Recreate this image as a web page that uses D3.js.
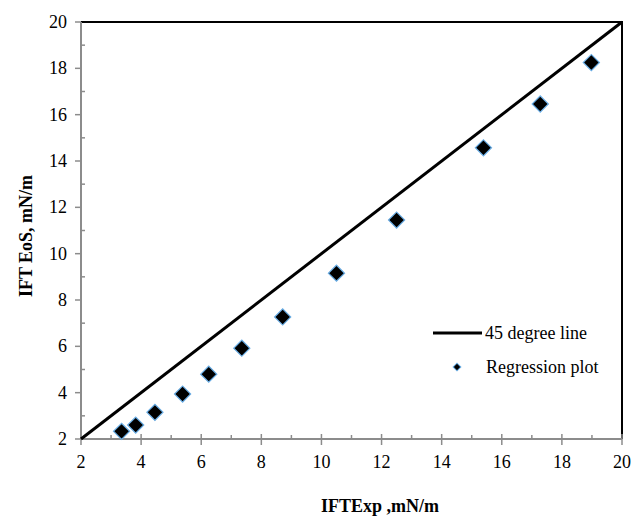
<!DOCTYPE html>
<html>
<head>
<meta charset="utf-8">
<script src="https://cdn.jsdelivr.net/npm/d3@7"></script>
<style>
  body { margin: 0; background: #fff; }
</style>
</head>
<body>
<svg id="chart"></svg>
<script>
// Data
const expValues = [3.35, 3.82, 4.46, 5.38, 6.25, 7.35, 8.71, 10.5, 12.5, 15.39, 17.28, 18.98];
const eosValues = [2.33, 2.6, 3.15, 3.94, 4.8, 5.92, 7.27, 9.16, 11.45, 14.57, 16.46, 18.25];
const lineEnds = [2, 20];
const majorTicks = [2, 4, 6, 8, 10, 12, 14, 16, 18, 20];
const minorTicks = [3, 5, 7, 9, 11, 13, 15, 17, 19];
const legendLabels = ["45 degree line", "Regression plot"];

const width = 632, height = 517;
const margin = {top: 22, right: 10, bottom: 78, left: 81};

const svg = d3.select("#chart")
    .attr("width", width)
    .attr("height", height)
    .attr("font-family", "'Liberation Serif', Tinos, 'DejaVu Serif', serif");

const x = d3.scaleLinear().domain([2, 20]).range([margin.left, width - margin.right]);
const y = d3.scaleLinear().domain([2, 20]).range([height - margin.bottom, margin.top]);

const axisColor = "#8c8c8c";

// Top and right border (black)
svg.append("path")
    .attr("d", `M${x(2)},${y(20)} H${x(20)} V${y(2)}`)
    .attr("fill", "none")
    .attr("stroke", "#000")
    .attr("stroke-width", 2);

// X axis
const gx = svg.append("g");
gx.append("line")
    .attr("x1", x(2)).attr("x2", x(20))
    .attr("y1", y(2)).attr("y2", y(2))
    .attr("stroke", axisColor).attr("stroke-width", 2);
gx.selectAll("line.major").data(majorTicks).join("line")
    .attr("class", "major")
    .attr("x1", d => x(d)).attr("x2", d => x(d))
    .attr("y1", y(2) - 5).attr("y2", y(2) + 6)
    .attr("stroke", axisColor).attr("stroke-width", 1.5);
gx.selectAll("line.minor").data(minorTicks).join("line")
    .attr("class", "minor")
    .attr("x1", d => x(d)).attr("x2", d => x(d))
    .attr("y1", y(2) - 4).attr("y2", y(2))
    .attr("stroke", axisColor).attr("stroke-width", 1.5);
gx.selectAll("text").data(majorTicks).join("text")
    .attr("x", d => x(d))
    .attr("y", y(2) + 29)
    .attr("text-anchor", "middle")
    .attr("font-size", 18)
    .text(d => d);

// Y axis
const gy = svg.append("g");
gy.append("line")
    .attr("x1", x(2)).attr("x2", x(2))
    .attr("y1", y(2)).attr("y2", y(20))
    .attr("stroke", axisColor).attr("stroke-width", 2);
gy.selectAll("line.major").data(majorTicks).join("line")
    .attr("class", "major")
    .attr("x1", x(2) - 6).attr("x2", x(2))
    .attr("y1", d => y(d)).attr("y2", d => y(d))
    .attr("stroke", axisColor).attr("stroke-width", 1.5);
gy.selectAll("line.minor").data(minorTicks).join("line")
    .attr("class", "minor")
    .attr("x1", x(2)).attr("x2", x(2) + 4)
    .attr("y1", d => y(d)).attr("y2", d => y(d))
    .attr("stroke", axisColor).attr("stroke-width", 1.5);
gy.selectAll("text").data(majorTicks).join("text")
    .attr("x", x(2) - 14)
    .attr("y", d => y(d) + 6)
    .attr("text-anchor", "end")
    .attr("font-size", 18)
    .text(d => d);

// 45 degree line
svg.append("line")
    .attr("x1", x(lineEnds[0])).attr("y1", y(lineEnds[0]))
    .attr("x2", x(lineEnds[1])).attr("y2", y(lineEnds[1]))
    .attr("stroke", "#000")
    .attr("stroke-width", 3);

// Diamonds
const diamond = d3.symbol().type(d3.symbolSquare).size(130);
svg.selectAll("path.pt").data(expValues).join("path")
    .attr("class", "pt")
    .attr("d", diamond)
    .attr("transform", (d, i) => `translate(${x(d)},${y(eosValues[i])}) rotate(45)`)
    .attr("fill", "#000")
    .attr("stroke", "#6aaee6")
    .attr("stroke-width", 1.2);

// Legend
const legend = svg.append("g");
legend.append("line")
    .attr("x1", 433).attr("x2", 482)
    .attr("y1", 333).attr("y2", 333)
    .attr("stroke", "#000").attr("stroke-width", 3);
legend.append("text")
    .attr("x", 485).attr("y", 339)
    .attr("font-size", 18)
    .text(legendLabels[0]);
legend.append("path")
    .attr("d", d3.symbol().type(d3.symbolSquare).size(30))
    .attr("transform", "translate(457,367) rotate(45)")
    .attr("fill", "#000")
    .attr("stroke", "#6aaee6")
    .attr("stroke-width", 1);
legend.append("text")
    .attr("x", 486).attr("y", 373)
    .attr("font-size", 18)
    .text(legendLabels[1]);

// Axis titles
svg.append("text")
    .attr("x", 380).attr("y", 512)
    .attr("text-anchor", "middle")
    .attr("font-size", 18)
    .attr("font-weight", "bold")
    .text("IFTExp ,mN/m");

svg.append("text")
    .attr("transform", "translate(32,236) rotate(-90)")
    .attr("text-anchor", "middle")
    .attr("font-size", 18)
    .attr("font-weight", "bold")
    .text("IFT EoS, mN/m");
</script>
</body>
</html>
